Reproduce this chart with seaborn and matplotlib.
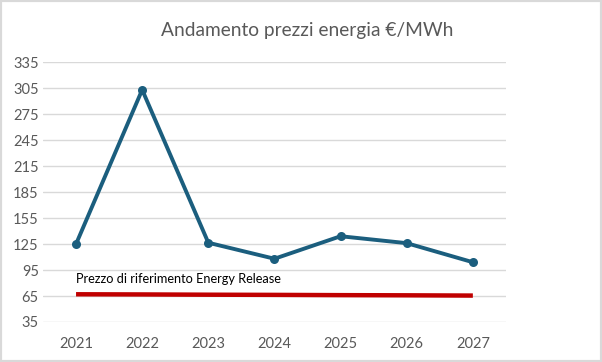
import matplotlib.pyplot as plt
import matplotlib.patches as patches
import seaborn as sb
import pandas as pd

# dati
anni = ["2021", "2022", "2023", "2024", "2025", "2026", "2027"]
prezzi = [125, 303, 126.5, 108, 134, 126, 104]
riferimento = [67, 66.8, 66.5, 66.3, 66, 65.8, 65.5]
yticks = [35, 65, 95, 125, 155, 185, 215, 245, 275, 305, 335]

df = pd.DataFrame({"anno": anni, "prezzo": prezzi, "rif": riferimento})

sb.set_style("white")
plt.rcParams['font.family'] = ['Lato', 'DejaVu Sans']

fig = plt.figure(figsize=(6.02, 3.62), dpi=100)
ax = fig.add_axes([0.0714, 0.1105, 0.769, 0.718])

sb.lineplot(data=df, x="anno", y="rif", ax=ax, color="#C00000", linewidth=3.2,
            solid_capstyle="butt")
sb.lineplot(data=df, x="anno", y="prezzo", ax=ax, color="#1B5E7E", linewidth=2.8,
            marker="o", markersize=6.5, markeredgewidth=0)

ax.set_xlim(-0.5, 6.5)
ax.set_ylim(35, 335)
ax.set_yticks(yticks)
ax.yaxis.grid(True, color="#D9D9D9", linewidth=1)
ax.set_axisbelow(True)
for s in ax.spines.values():
    s.set_visible(False)
ax.set_xlabel("")
ax.set_ylabel("")
ax.tick_params(axis="both", length=0, labelsize=10.5, colors="#595959")
ax.tick_params(axis="x", pad=11)
ax.tick_params(axis="y", pad=3)

ax.text(0, 84.5, "Prezzo di riferimento Energy Release", fontsize=9.2, color="#000000",
        ha="left", va="center")

fig.text(0.51, 0.915, "Andamento prezzi energia €/MWh", fontsize=13.8, color="#595959",
         ha="center", va="center")

fig.patches.append(patches.Rectangle((0, 0), 1, 1, transform=fig.transFigure,
                                     fill=False, edgecolor="#D9D9D9", linewidth=3))

fig.savefig("out.png", dpi=100)
